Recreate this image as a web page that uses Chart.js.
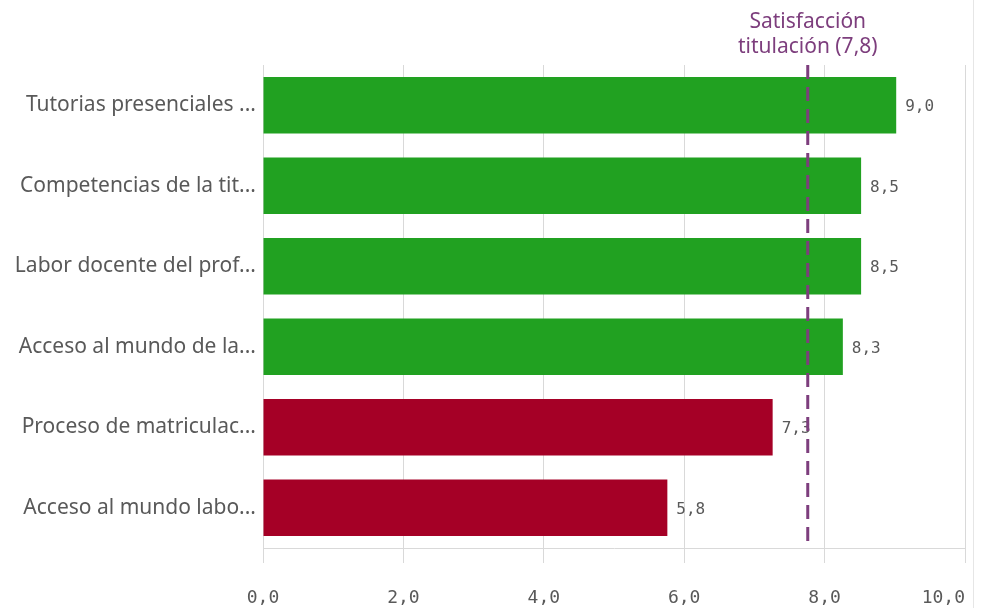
<!DOCTYPE html>
<html>
<head>
<meta charset="utf-8">
<script src="https://cdn.jsdelivr.net/npm/chart.js@4.4.0/dist/chart.umd.min.js"></script>
<style>
  html, body { margin: 0; padding: 0; background: #fff; }
  #wrap { position: relative; width: 987px; height: 608px; }
  #edge { position: absolute; left: 973px; top: 0; width: 1px; height: 608px; background: #e6e6e6; }
</style>
</head>
<body>
<div id="wrap">
  <canvas id="chart" width="987" height="608"></canvas>
  <div id="edge"></div>
</div>
<script>
// datos
const categories = [
    'Tutorias presenciales ...',
    'Competencias de la tit...',
    'Labor docente del prof...',
    'Acceso al mundo de la...',
    'Proceso de matriculac...',
    'Acceso al mundo labo...'
]
const values = [9.02, 8.52, 8.52, 8.26, 7.26, 5.76]
const xTicks = [0, 2, 4, 6, 8, 10]
const refValue = 7.76
const refLabel = ['Satisfacción', 'titulación (7,8)']

const green = 'rgb(33, 161, 33)'
const red = 'rgb(165, 0, 38)'
const purple = 'rgb(125, 62, 125)'

// verde si supera la media de la titulacion
const barColors = values.map(v => v >= refValue ? green : red)

const fmt = v => v.toFixed(1).replace('.', ',')

const extras = {
    id: 'extras',
    afterDatasetsDraw(chart) {
        const ctx = chart.ctx
        const xs = chart.scales.x
        const area = chart.chartArea
        const meta = chart.getDatasetMeta(0)

        // etiquetas de valor
        ctx.save()
        ctx.font = '16px "DejaVu Sans Mono"'
        ctx.fillStyle = '#595959'
        ctx.textAlign = 'left'
        ctx.textBaseline = 'middle'
        meta.data.forEach((bar, i) => {
            ctx.fillText(fmt(values[i]), bar.x + 9, bar.y + 2)
        })

        // linea de referencia
        const rx = xs.getPixelForValue(refValue)
        ctx.strokeStyle = purple
        ctx.lineWidth = 3
        ctx.setLineDash([14, 8])
        ctx.beginPath()
        ctx.moveTo(rx, area.top)
        ctx.lineTo(rx, area.bottom)
        ctx.stroke()
        ctx.setLineDash([])

        ctx.font = '21px "Noto Sans"'
        ctx.fillStyle = purple
        ctx.textAlign = 'center'
        ctx.textBaseline = 'middle'
        ctx.fillText(refLabel[0], rx, 22)
        ctx.fillText(refLabel[1], rx, 47)
        ctx.restore()
    }
}

const lastTick = xTicks[xTicks.length - 1]

const chart = new Chart(document.getElementById('chart'), {
    type: 'bar',
    data: {
        labels: categories,
        datasets: [{
            data: values,
            backgroundColor: barColors,
            borderWidth: 0,
            categoryPercentage: 1,
            barPercentage: 0.7
        }]
    },
    options: {
        indexAxis: 'y',
        responsive: false,
        animation: false,
        layout: { padding: { top: 65, right: 0, left: 0, bottom: 0 } },
        plugins: {
            legend: { display: false },
            tooltip: { enabled: false }
        },
        scales: {
            x: {
                min: 0,
                max: 10,
                afterBuildTicks: s => { s.ticks = xTicks.map(v => ({ value: v })) },
                afterFit: s => {
                    s.height = 60
                    s.paddingLeft = 0
                    s.paddingRight = 22
                },
                grid: { color: '#d9d9d9', lineWidth: 1, tickLength: 15 },
                border: { color: '#d9d9d9' },
                ticks: {
                    padding: 25,
                    color: '#595959',
                    font: { family: 'DejaVu Sans Mono', size: 18 },
                    // la ultima etiqueta queda alineada a la derecha (fuente monoespaciada)
                    callback: v => v === lastTick ? fmt(v) + '    ' : fmt(v),
                    maxRotation: 0
                }
            },
            y: {
                afterFit: s => { s.width = 263 },
                grid: { display: false, drawTicks: false },
                border: { color: '#d9d9d9', width: 1 },
                ticks: {
                    padding: 7,
                    color: '#595959',
                    font: { family: 'Noto Sans', size: 21 }
                }
            }
        }
    },
    plugins: [extras]
})
</script>
</body>
</html>
